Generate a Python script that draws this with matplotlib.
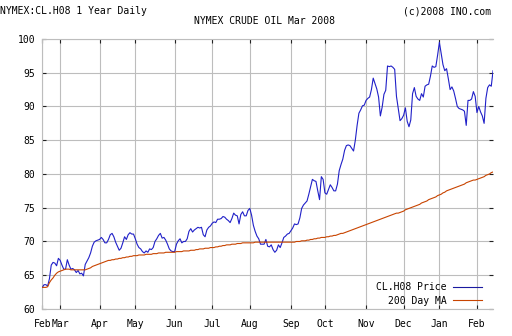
import matplotlib
matplotlib.use("Agg")
import matplotlib.pyplot as plt
import numpy as np
import pandas as pd

# daily closes, one list per month (Feb 14 2007 .. Feb 14 2008)
price_feb07 = [63.2, 63.6, 63.6, 63.4, 64.5, 66.5, 66.9, 66.8, 66.4, 67.5]
price_mar07 = [67.2, 66.5, 65.9, 65.9, 67.3, 66.5, 65.9, 66.0, 65.8, 65.4, 65.7,
               65.2, 65.3, 64.9, 66.6, 67.1, 67.6, 68.3, 69.3, 69.9, 70.1, 70.2]
price_apr07 = [70.3, 70.6, 70.3, 69.8, 69.8, 70.3, 71.0, 71.2, 70.7, 69.9,
               69.3, 68.7, 69.0, 69.8, 70.7, 70.3, 71.0, 71.3, 71.1, 71.1]
price_may07 = [70.4, 69.6, 69.1, 68.9, 68.5, 68.3, 68.6, 68.4, 68.9, 68.8, 69.1,
               70.0, 70.4, 70.9, 71.2, 70.5, 70.6, 70.2, 69.6, 68.9, 68.6, 68.5]
price_jun07 = [68.5, 69.6, 70.1, 70.4, 69.8, 70.0, 70.0, 70.4, 71.5, 71.9, 71.4,
               71.7, 71.9, 72.1, 72.0, 72.1, 71.0, 70.7, 71.7, 72.1, 72.3]
price_jul07 = [72.7, 72.9, 72.8, 73.3, 73.3, 73.4, 73.7, 73.6, 73.3, 73.1, 72.8,
               73.4, 74.2, 73.9, 73.8, 72.6, 74.0, 74.4, 73.8, 73.8, 74.6]
price_aug07 = [74.9, 73.9, 72.4, 71.5, 70.8, 70.4, 69.6, 69.6, 69.6, 70.3, 69.3, 69.2,
               69.5, 68.8, 68.4, 68.7, 69.5, 69.1, 69.8, 70.6, 70.8, 71.1, 71.2]
price_sep07 = [71.6, 72.0, 72.6, 72.5, 72.6, 73.5, 74.9, 75.4, 75.7, 76.0,
               77.0, 78.1, 79.2, 79.0, 78.9, 77.5, 76.2, 79.6, 79.2]
price_oct07 = [77.2, 77.0, 77.7, 78.4, 78.0, 77.5, 77.5, 78.5, 80.5, 81.4, 82.2, 83.5,
               84.2, 84.3, 84.2, 83.8, 83.4, 85.0, 87.2, 89.0, 89.5, 90.1, 90.2]
price_nov07 = [90.9, 91.2, 91.4, 92.5, 94.2, 93.4, 92.6, 91.4, 88.6, 89.9, 91.8,
               92.4, 96.0, 95.9, 96.0, 95.8, 95.5, 91.5, 89.7, 87.9, 88.2]
price_dec07 = [88.7, 89.8, 87.8, 87.0, 88.0, 91.9, 92.8, 91.5, 91.1, 90.9,
               91.9, 91.4, 93.0, 93.2, 93.3, 94.5, 96.0, 95.8, 95.9, 97.6]
price_jan08 = [99.5, 97.8, 96.2, 95.3, 95.6, 94.1, 92.5, 92.9, 92.3, 91.2, 90.0,
               89.7, 89.6, 89.5, 89.3, 87.2, 90.9, 90.9, 91.1, 92.2, 91.5]
price_feb08 = [89.1, 90.0, 89.2, 88.6, 87.5, 91.2, 92.8, 93.2, 93.0, 95.3]

# 200 day moving average as drawn on the chart
ma_feb07 = [63.2, 63.2, 63.2, 63.3, 63.9, 64.3, 64.6, 65.0, 65.3, 65.5]
ma_mar07 = [65.6, 65.7, 65.8, 65.9, 65.9, 65.9, 65.8, 65.8, 65.8, 65.8, 65.8,
            65.8, 65.8, 65.8, 65.8, 65.9, 66.0, 66.1, 66.3, 66.4, 66.5, 66.6]
ma_apr07 = [66.7, 66.8, 66.9, 67.0, 67.1, 67.2, 67.2, 67.3, 67.3, 67.4,
            67.4, 67.5, 67.5, 67.6, 67.6, 67.7, 67.7, 67.8, 67.8, 67.9]
ma_may07 = [67.9, 67.9, 68.0, 68.0, 68.0, 68.0, 68.1, 68.1, 68.1, 68.1, 68.2,
            68.2, 68.2, 68.3, 68.3, 68.3, 68.3, 68.4, 68.4, 68.4, 68.4, 68.4]
ma_jun07 = [68.4, 68.5, 68.5, 68.5, 68.5, 68.6, 68.6, 68.6, 68.6, 68.7, 68.7,
            68.7, 68.8, 68.8, 68.9, 68.9, 68.9, 69.0, 69.0, 69.0, 69.1]
ma_jul07 = [69.1, 69.1, 69.2, 69.2, 69.3, 69.3, 69.4, 69.4, 69.5, 69.5, 69.5,
            69.6, 69.6, 69.6, 69.7, 69.7, 69.7, 69.8, 69.8, 69.8, 69.8]
ma_aug07 = [69.8, 69.8, 69.8, 69.9, 69.9, 69.9, 69.9, 69.9, 69.9, 69.9, 69.9, 69.9,
            69.9, 69.9, 69.9, 69.9, 69.9, 69.9, 69.9, 69.9, 69.9, 69.9, 69.9]
ma_sep07 = [69.9, 69.9, 69.9, 70.0, 70.0, 70.0, 70.1, 70.1, 70.1, 70.2,
            70.2, 70.3, 70.3, 70.4, 70.4, 70.5, 70.5, 70.6, 70.6]
ma_oct07 = [70.6, 70.7, 70.7, 70.8, 70.8, 70.9, 70.9, 71.0, 71.1, 71.2, 71.2, 71.3,
            71.4, 71.5, 71.6, 71.7, 71.8, 71.9, 72.0, 72.1, 72.2, 72.3, 72.4]
ma_nov07 = [72.5, 72.6, 72.7, 72.8, 72.9, 73.0, 73.1, 73.2, 73.3, 73.4, 73.5,
            73.6, 73.7, 73.8, 73.9, 74.0, 74.1, 74.2, 74.2, 74.3, 74.4]
ma_dec07 = [74.5, 74.7, 74.8, 74.9, 75.0, 75.1, 75.2, 75.3, 75.4, 75.5,
            75.7, 75.8, 75.9, 76.0, 76.2, 76.3, 76.4, 76.5, 76.6, 76.8]
ma_jan08 = [76.9, 77.0, 77.2, 77.3, 77.5, 77.6, 77.7, 77.8, 77.9, 78.0, 78.1,
            78.2, 78.3, 78.4, 78.5, 78.7, 78.8, 78.9, 79.0, 79.1, 79.1]
ma_feb08 = [79.2, 79.3, 79.4, 79.5, 79.6, 79.8, 79.9, 80.0, 80.2, 80.3]

price = (price_feb07 + price_mar07 + price_apr07 + price_may07 + price_jun07
         + price_jul07 + price_aug07 + price_sep07 + price_oct07 + price_nov07
         + price_dec07 + price_jan08 + price_feb08)
ma200 = (ma_feb07 + ma_mar07 + ma_apr07 + ma_may07 + ma_jun07 + ma_jul07
         + ma_aug07 + ma_sep07 + ma_oct07 + ma_nov07 + ma_dec07 + ma_jan08 + ma_feb08)

holidays = ["2007-02-19", "2007-04-06", "2007-05-28", "2007-07-04", "2007-09-03",
            "2007-11-22", "2007-12-25", "2008-01-01", "2008-01-21", "2008-02-18"]
dates = pd.bdate_range("2007-02-14", periods=len(price), freq="C", holidays=holidays)
x = np.arange(len(price))

# month ticks at the first trading day of each month
month_idx = [0] + [i for i in range(1, len(dates)) if dates[i].month != dates[i - 1].month]
month_lbl = [dates[i].strftime("%b") for i in month_idx]

mono = "DejaVu Sans Mono"
plt.rcParams["font.family"] = mono
plt.rcParams["font.size"] = 7

fig = plt.figure(figsize=(5.12, 3.36), dpi=100)
ax = fig.add_axes([0.0826, 0.0804, 0.8804, 0.8036])

ax.plot(x, price, color="#2020c8", lw=0.8, label="CL.H08 Price", zorder=3)
ax.plot(x, ma200, color="#c84400", lw=0.8, label="200 Day MA", zorder=3)

ax.set_xlim(0, len(price) - 1)
ax.set_ylim(60, 100)
ax.set_yticks(np.arange(60, 101, 5))
ax.set_xticks(month_idx)
ax.set_xticklabels(month_lbl)

ax.grid(True, color="#bdbdbd", lw=0.8, zorder=0)
ax.set_axisbelow(True)
for side in ["left", "bottom", "top"]:
    ax.spines[side].set_color("#bdbdbd")
    ax.spines[side].set_linewidth(0.8)
ax.spines["right"].set_visible(False)

ax.tick_params(axis="both", direction="in", length=3, width=0.8, color="#222222",
               top=True, right=True, labelsize=7)
ax.tick_params(axis="x", pad=7)
ax.tick_params(axis="y", pad=5)

leg = ax.legend(loc="lower right", bbox_to_anchor=(0.976, 0.012), frameon=False,
                markerfirst=False, handlelength=3.0, handletextpad=0.7,
                labelspacing=0.35, borderpad=0, borderaxespad=0, fontsize=7)
leg.get_lines()[0].set_color("#1a1aa0")

fig.text(0.0, 1 - 11 / 336, "NYMEX:CL.H08 1 Year Daily", ha="left", va="center", fontsize=7)
fig.text(491.5 / 512, 1 - 11 / 336, "(c)2008 INO.com", ha="right", va="center", fontsize=7)
fig.text(264 / 512, 1 - 21.5 / 336, "NYMEX CRUDE OIL Mar 2008", ha="center", va="center",
         fontsize=7)

fig.savefig("out.png", dpi=100, facecolor="white")
